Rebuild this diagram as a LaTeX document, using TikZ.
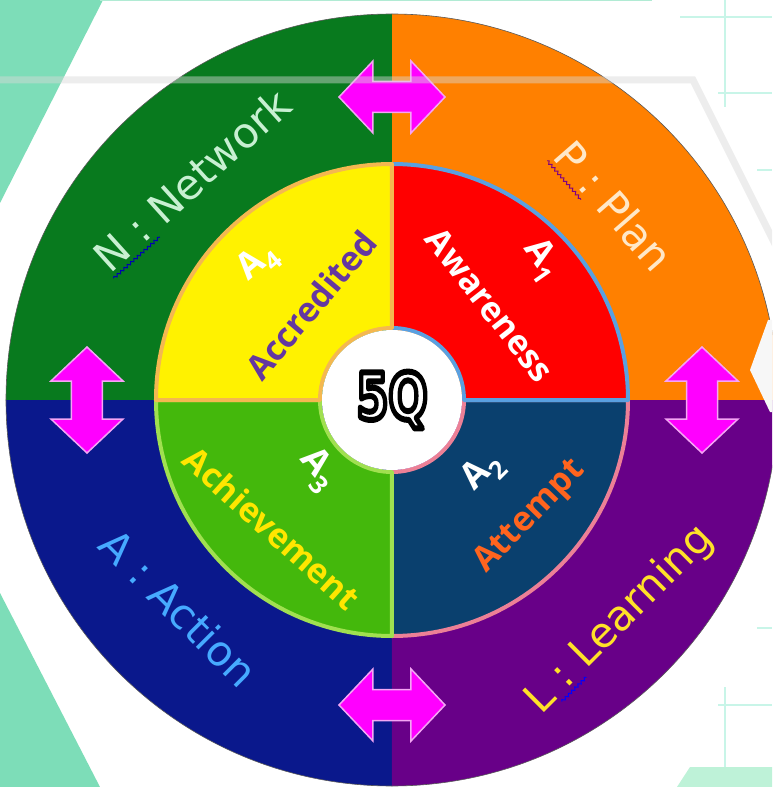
\documentclass[tikz,border=0pt]{standalone}
\usepackage{fontspec}
\setmainfont{DejaVu Sans}
\newfontfamily\boldf{Open Sans}
\usetikzlibrary{calc,decorations.pathmorphing}
\definecolor{cGreen}{RGB}{8,122,30}
\definecolor{cOrange}{RGB}{255,128,0}
\definecolor{cNavy}{RGB}{10,24,140}
\definecolor{cPurple}{RGB}{104,0,136}
\definecolor{cYellow}{RGB}{255,242,0}
\definecolor{cRed}{RGB}{255,0,0}
\definecolor{cDeep}{RGB}{10,64,110}
\definecolor{cLeaf}{RGB}{68,184,12}
\definecolor{bYellow}{RGB}{244,184,80}
\definecolor{bRed}{RGB}{90,160,224}
\definecolor{bDeep}{RGB}{236,128,150}
\definecolor{bLeaf}{RGB}{160,224,80}
\definecolor{tealA}{RGB}{125,221,184}
\definecolor{mintA}{RGB}{200,245,232}
\definecolor{mintB}{RGB}{190,242,216}
\definecolor{mag}{RGB}{255,0,255}
\definecolor{magb}{RGB}{245,165,245}
\definecolor{nText}{RGB}{200,240,210}
\definecolor{pText}{RGB}{255,232,200}
\definecolor{aText}{RGB}{70,170,255}
\definecolor{lText}{RGB}{255,225,40}
\definecolor{accText}{RGB}{100,55,160}
\definecolor{attText}{RGB}{255,100,30}
\definecolor{achText}{RGB}{255,230,0}
\newcommand{\dblarrow}[3]{%
  \begin{scope}[shift={(#1,#2)}, rotate=#3]
    \path[arrowshape] (-53,0) -- (-19,36) -- (-19,15.5) -- (19,15.5) -- (19,36) -- (53,0)
      -- (19,-36) -- (19,-15.5) -- (-19,-15.5) -- (-19,-36) -- cycle;
  \end{scope}}
\newcommand{\sector}[4]{%
  \path[fill=#3, draw=#4, line width=4pt, line join=round]
    (#1:72) arc[start angle=#1, end angle=#2, radius=72] -- (#2:236)
    arc[start angle=#2, end angle=#1, radius=236] -- cycle;}
\newcommand{\outlined}[1]{\special{pdf:literal direct 2 Tr 6 w 1 j 0 0 0 RG}#1\special{pdf:literal direct 0 Tr 1 w}}
\begin{document}
\begin{tikzpicture}[x=1pt,y=1pt,
  outer/.style={inner sep=0pt, font=\fontsize{42}{42}\selectfont},
  innerlbl/.style={inner sep=0pt, font=\boldf\bfseries\fontsize{34}{34}\selectfont},
  alabel/.style={inner sep=0pt, text=white, font=\boldf\bfseries\fontsize{36}{36}\selectfont},
  squig/.style={decorate, decoration={snake, amplitude=1.3pt, segment length=4.5pt}, line width=1pt},
  arrowshape/.style={fill=mag, draw=magb, line width=1.5pt, line join=miter},
  fq/.style={inner sep=0pt, font=\bfseries\fontsize{64}{64}\selectfont}]
\useasboundingbox (-392,-387) rectangle (380,400);
\clip (-392,-387) rectangle (380,400);
\fill[white] (-392,-387) rectangle (380,400);
% background decoration
\fill[tealA] (-392,400) -- (-289,400) -- (-392,197) -- cycle;
\fill[tealA] (-392,-193) -- (-292,-387) -- (-392,-387) -- cycle;
\draw[tealA!60, line width=2pt] (-292,400) -- (260,400);
\begin{scope}[mintA, line width=2.5pt]
  \draw (333,400) -- (333,293);
  \draw (288,383) -- (380,383);
  \draw (326,307) -- (380,307);
  \draw (365,230) -- (380,230);
  \draw (365,-228) -- (380,-228);
  \draw (326,-305) -- (380,-305);
  \draw (333,-287) -- (333,-367);
\end{scope}
\fill[mintB] (285,-387) -- (298,-367) -- (380,-367) -- (380,-387) -- cycle;
% outer ring quadrants
\fill[cOrange] (0,0) -- (0:386) arc[start angle=0, end angle=90, radius=386] -- cycle;
\fill[cGreen] (0,0) -- (90:386) arc[start angle=90, end angle=180, radius=386] -- cycle;
\fill[cNavy] (0,0) -- (180:386) arc[start angle=180, end angle=270, radius=386] -- cycle;
\fill[cPurple] (0,0) -- (270:386) arc[start angle=270, end angle=360, radius=386] -- cycle;
\draw[gray!70!black, line width=0.6pt] (0,0) circle[radius=386];
% right notch
\fill[white!94!gray] (376,80) -- (358,30) -- (378,-12) -- (390,-12) -- (390,80) -- cycle;
% inner sectors
\sector{270}{360}{cDeep}{bDeep}
\sector{0}{90}{cRed}{bRed}
\sector{180}{270}{cLeaf}{bLeaf}
\sector{90}{180}{cYellow}{bYellow}
\fill[white] (0,0) circle[radius=70];
% arrows
\dblarrow{0}{303}{0}
\dblarrow{0}{-305}{0}
\dblarrow{-305}{0}{90}
\dblarrow{310}{0}{90}
% outer labels
\node[outer, text=nText, rotate=42] (lN) at (-200,220) {N : Network};
\node[outer, text=pText, rotate=-49] (lP) at (222,194) {P : Plan};
\node[outer, text=aText, rotate=-45] (lA) at (-213,-208) {A : Action};
\node[outer, text=lText, rotate=45] (lL) at (228,-220) {L : Learning};
\draw[squig, blue!70!black] ($(lN.base west)!5pt!-90:(lN.base east)$) -- ($($(lN.base west)!0.25!(lN.base east)$)!5pt!-90:(lN.base east)$);
\draw[squig, violet] ($(lP.base west)!5pt!-90:(lP.base east)$) -- ($($(lP.base west)!0.33!(lP.base east)$)!5pt!-90:(lP.base east)$);
\draw[squig, blue] ($($(lL.base west)!0.1!(lL.base east)$)!5pt!-90:(lL.base east)$) -- ($($(lL.base west)!0.24!(lL.base east)$)!5pt!-90:(lL.base east)$);
% inner labels
\node[alabel, rotate=40] (a4) at (-134,138) {A\textsubscript{4}};
\node[innerlbl, text=accText, rotate=50] (w4) at (-81,95) {Accredited};
\node[alabel, rotate=-55] (a1) at (150,140) {A\textsubscript{1}};
\node[innerlbl, text=white, rotate=-52] (w1) at (98,95) {Awareness};
\node[alabel, rotate=45] (a2) at (91,-72) {A\textsubscript{2}};
\node[innerlbl, text=attText, rotate=46] (w2) at (138,-117) {Attempt};
\node[alabel, rotate=-50] (a3) at (-74,-70) {A\textsubscript{3}};
\node[innerlbl, text=achText, rotate=-42] (w3) at (-120,-128) {Achievement};
% center 5Q
\node[fq, text=white] (q5) at (0,0) {\scalebox{0.72}[1]{\outlined{5Q}}};
% translucent band on top
\draw[gray!30, opacity=0.45, line width=7pt, line join=miter] (-392,320) -- (301,320) -- (385,152);
\end{tikzpicture}
\end{document}
